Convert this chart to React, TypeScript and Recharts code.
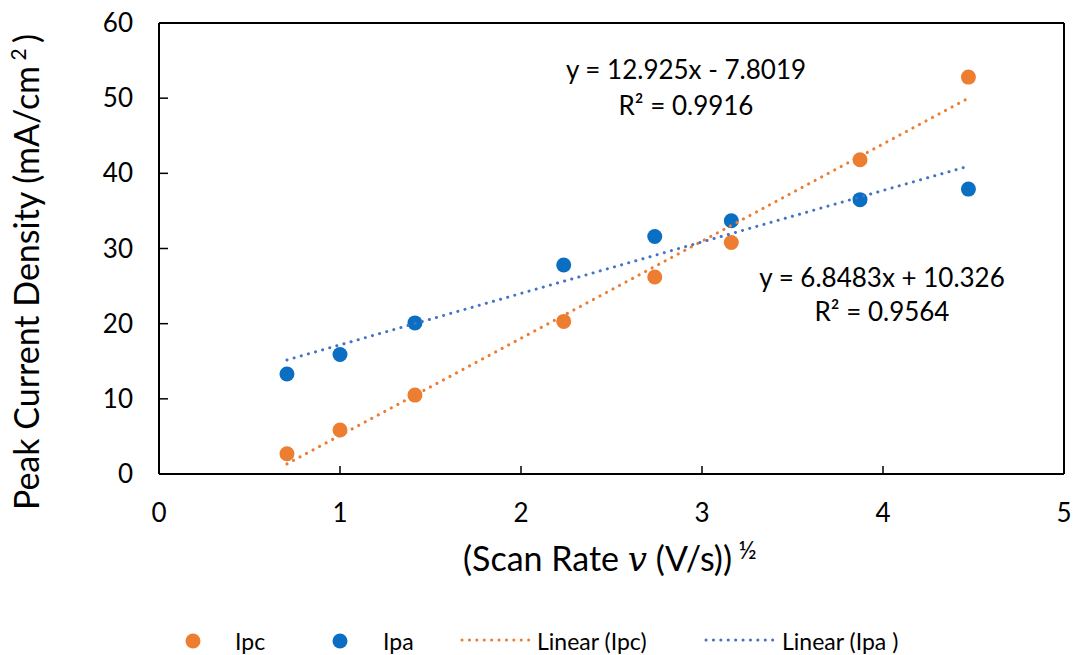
import React from 'react';
import { ScatterChart, Scatter, XAxis, YAxis, ReferenceLine } from 'recharts';

const sqrtScanRate = [0.707, 1.0, 1.414, 2.236, 2.739, 3.162, 3.873, 4.472];
const ipcValues = [2.7, 5.85, 10.5, 20.3, 26.2, 30.8, 41.8, 52.8];
const ipaValues = [13.3, 15.9, 20.1, 27.8, 31.6, 33.7, 36.5, 37.9];
const ipcTrend = [
  { x: 0.707, y: 1.34 },
  { x: 4.472, y: 50.0 },
];
const ipaTrend = [
  { x: 0.707, y: 15.17 },
  { x: 4.472, y: 40.95 },
];
const xTicks = [0, 1, 2, 3, 4, 5];
const yTicks = [0, 10, 20, 30, 40, 50, 60];

const ipcData = sqrtScanRate.map((x, i) => ({ x, y: ipcValues[i] }));
const ipaData = sqrtScanRate.map((x, i) => ({ x, y: ipaValues[i] }));

const ORANGE = '#ED7D31';
const BLUE_PT = '#0A6FC2';
const BLUE_LN = '#4472C4';
const FONT = 'Lato, "Open Sans", sans-serif';
const TICK_FS = 26;
const X_MARGIN = 20;
const Y_MARGIN = 20;

const XTick = (props: any) => {
  const { x, y, payload } = props;
  const axisY = y - X_MARGIN;
  return (
    <g>
      <line x1={x} y1={axisY} x2={x} y2={axisY - 8} stroke="#000" strokeWidth={1.5} />
      <text x={x} y={axisY + 48} textAnchor="middle" fontSize={TICK_FS} fontFamily={FONT} fill="#000">
        {payload.value}
      </text>
    </g>
  );
};

const YTick = (props: any) => {
  const { x, y, payload } = props;
  const axisX = x + Y_MARGIN;
  return (
    <g>
      <line x1={axisX} y1={y} x2={axisX + 9} y2={y} stroke="#000" strokeWidth={1.5} />
      <text x={axisX - 26} y={y + 9} textAnchor="end" fontSize={TICK_FS} fontFamily={FONT} fill="#000">
        {payload.value}
      </text>
    </g>
  );
};

const makeDot = (color: string) => (props: any) => (
  <circle cx={props.cx} cy={props.cy} r={7.5} fill={color} />
);
const noShape = () => <g />;

const dotted = (color: string) => ({
  stroke: color,
  strokeWidth: 3,
  strokeDasharray: '0.1 7.3',
  strokeLinecap: 'round' as const,
});

export default function App() {
  return (
    <div style={{ position: 'absolute', left: 0, top: 0, width: 1073, height: 655, background: '#fff' }}>
      <ScatterChart width={1073} height={655} margin={{ top: 23, right: 9, bottom: 0, left: 0 }}>
        <XAxis
          type="number"
          dataKey="x"
          domain={[0, 5]}
          ticks={xTicks}
          interval={0}
          height={181}
          tickSize={0}
          tickMargin={X_MARGIN}
          axisLine={{ stroke: '#000', strokeWidth: 2 }}
          tickLine={false}
          tick={<XTick />}
        />
        <YAxis
          type="number"
          dataKey="y"
          domain={[0, 60]}
          ticks={yTicks}
          interval={0}
          width={159}
          tickSize={0}
          tickMargin={Y_MARGIN}
          axisLine={{ stroke: '#000', strokeWidth: 2 }}
          tickLine={false}
          tick={<YTick />}
        />
        <ReferenceLine y={60} stroke="#000" strokeWidth={2} />
        <ReferenceLine x={5} stroke="#000" strokeWidth={2} />
        <Scatter data={ipcData} shape={makeDot(ORANGE)} isAnimationActive={false} />
        <Scatter data={ipaData} shape={makeDot(BLUE_PT)} isAnimationActive={false} />
        <Scatter data={ipcTrend} line={dotted(ORANGE)} shape={noShape} isAnimationActive={false} />
        <Scatter data={ipaTrend} line={dotted(BLUE_LN)} shape={noShape} isAnimationActive={false} />
      </ScatterChart>
      <svg
        width={1073}
        height={655}
        style={{ position: 'absolute', left: 0, top: 0, pointerEvents: 'none' }}
        fontFamily={FONT}
      >
        <text transform="translate(39,272) rotate(-90)" textAnchor="middle" fontSize={34} fill="#000">
          Peak Current Density (mA/cm
          <tspan dy={-13} fontSize={21}> 2 </tspan>
          <tspan dy={13}>)</tspan>
        </text>
        <text x={463} y={571} textAnchor="start" fontSize={34} fill="#000">
          (Scan Rate{' '}
          <tspan fontFamily='"DejaVu Serif", serif' fontStyle="italic">v</tspan> (V/s))
          <tspan dy={-12} fontSize={25}> ½</tspan>
        </text>
        <text x={686} y={79} textAnchor="middle" fontSize={26} fill="#000">
          y = 12.925x - 7.8019
        </text>
        <text x={686} y={115} textAnchor="middle" fontSize={26} fill="#000">
          R² = 0.9916
        </text>
        <text x={882} y={287} textAnchor="middle" fontSize={26} fill="#000">
          y = 6.8483x + 10.326
        </text>
        <text x={882} y={321} textAnchor="middle" fontSize={26} fill="#000">
          R² = 0.9564
        </text>
        <g fontSize={23} fill="#000">
          <circle cx={193} cy={641} r={7.5} fill={ORANGE} />
          <text x={235} y={650}>Ipc</text>
          <circle cx={340} cy={641} r={7.5} fill={BLUE_PT} />
          <text x={383} y={650}>Ipa</text>
          <line x1={462} y1={640} x2={530} y2={640} {...dotted(ORANGE)} />
          <text x={537} y={650}>Linear (Ipc)</text>
          <line x1={706} y1={640} x2={773} y2={640} {...dotted(BLUE_LN)} />
          <text x={782} y={650}>Linear (Ipa )</text>
        </g>
      </svg>
    </div>
  );
}
